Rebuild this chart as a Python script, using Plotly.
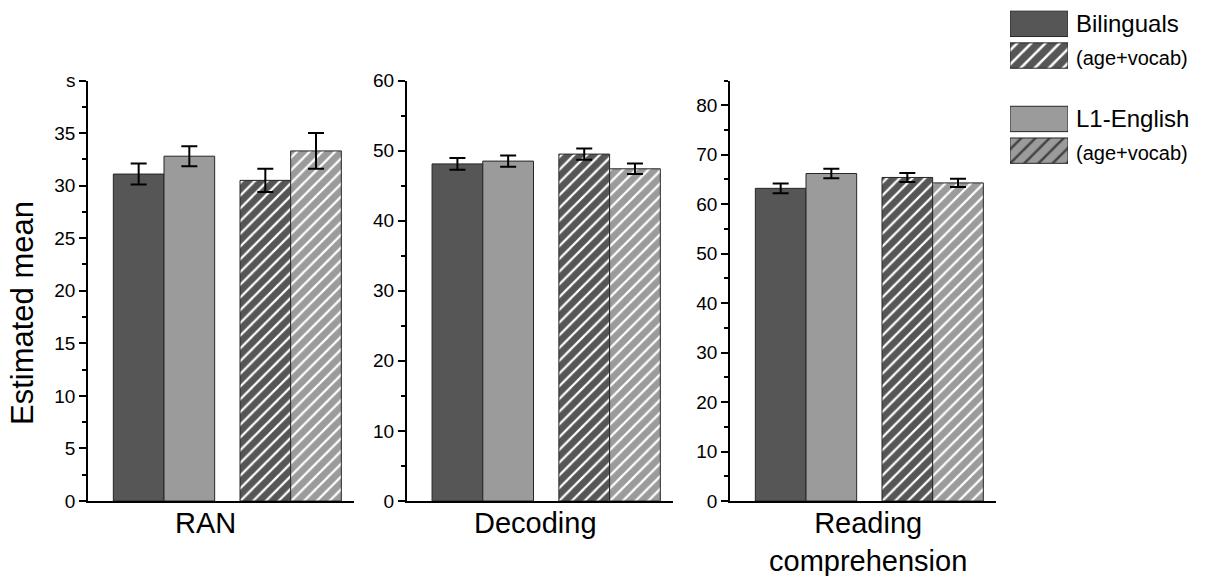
import plotly.graph_objects as go

# ---- data -------------------------------------------------------------
measures = ["RAN", "Decoding", "Reading<br>comprehension"]
models = ["unadjusted", "age+vocab"]

bilingual_mean = [31.1, 48.1, 63.2]
bilingual_err = [1.0, 0.85, 1.0]
bilingual_adj_mean = [30.5, 49.5, 65.4]
bilingual_adj_err = [1.1, 0.8, 0.9]

english_mean = [32.8, 48.5, 66.2]
english_err = [0.95, 0.8, 0.95]
english_adj_mean = [33.3, 47.4, 64.3]
english_adj_err = [1.7, 0.75, 0.85]

y_max = [40, 60, 85]
y_tickvals = [
    [0, 5, 10, 15, 20, 25, 30, 35, 40],
    [0, 10, 20, 30, 40, 50, 60],
    [0, 10, 20, 30, 40, 50, 60, 70, 80],
]
y_ticktext = [
    ["0", "5", "10", "15", "20", "25", "30", "35", "s"],
    ["0", "10", "20", "30", "40", "50", "60"],
    ["0", "10", "20", "30", "40", "50", "60", "70", "80"],
]
y_minor = [2.5, 5, 5]

legend_labels = ["Bilinguals", "(age+vocab)", "", "L1-English", "(age+vocab)"]
legend_keys = ["bil", "bil_adj", "spacer", "eng", "eng_adj"]

# ---- style ------------------------------------------------------------
W, H = 1214, 576
DARK = "#565656"
LIGHT = "#9b9b9b"
EDGE = "#262626"
FONT = "Arial, Liberation Sans, sans-serif"

x_domains = [(88, 354), (406.7, 673), (730, 996)]
y_domain = [(H - 501) / H, (H - 80.5) / H]
label_x = [205, 535, 868]


def px_x(v):
    return v / W


def px_y(v):
    return (H - v) / H


fig = go.Figure()

series = [
    ("Bilinguals", DARK, bilingual_mean, bilingual_adj_mean, bilingual_err, bilingual_adj_err),
    ("L1-English", LIGHT, english_mean, english_adj_mean, english_err, english_adj_err),
]

for i in range(3):
    xa = "x" if i == 0 else f"x{i + 1}"
    ya = "y" if i == 0 else f"y{i + 1}"
    for name, color, m, madj, e, eadj in series:
        fig.add_trace(go.Bar(
            x=models,
            y=[m[i], madj[i]],
            name=name,
            xaxis=xa, yaxis=ya,
            marker=dict(
                color=color,
                line=dict(color=EDGE, width=1),
                pattern=dict(shape=["", "/"], fgcolor="white", fgopacity=1,
                             fillmode="overlay", size=9, solidity=0.25),
            ),
            error_y=dict(type="data", array=[e[i], eadj[i]], visible=True,
                         color="black", thickness=2, width=8),
            showlegend=False,
        ))

    axis_common = dict(showline=True, linecolor="black", linewidth=1.5,
                       automargin=False)
    fig.layout[("xaxis" if i == 0 else f"xaxis{i + 1}")] = dict(
        domain=[px_x(x_domains[i][0]), px_x(x_domains[i][1])],
        anchor=ya, type="category", range=[-0.6, 1.5],
        showticklabels=False, ticks="", showgrid=False, zeroline=False,
        **axis_common,
    )
    fig.layout[("yaxis" if i == 0 else f"yaxis{i + 1}")] = dict(
        domain=y_domain, anchor=xa, range=[0, y_max[i]],
        tickvals=y_tickvals[i], ticktext=y_ticktext[i],
        ticks="outside", ticklen=7, tickwidth=1.5, tickcolor="black",
        minor=dict(dtick=y_minor[i], tick0=0, ticks="outside", ticklen=4,
                   tickwidth=1.5, tickcolor="black", showgrid=False),
        showgrid=False, zeroline=False,
        tickfont=dict(family=FONT, size=19, color="black"),
        **axis_common,
    )
    fig.add_annotation(
        text=measures[i], xref="paper", yref="paper",
        x=px_x(label_x[i]), y=px_y(523), xanchor="center", yanchor="top",
        yshift=18, showarrow=False,
        font=dict(family=FONT, size=29, color="black"),
    )

# ---- legend swatches on a hidden axis ---------------------------------
sw_colors = [DARK, DARK, DARK, LIGHT, LIGHT]
sw_shapes = ["", "/", "", "", "/"]
sw_len = [1, 1, None, 1, 1]
fig.add_trace(go.Bar(
    x=sw_len, y=legend_keys, orientation="h",
    xaxis="x4", yaxis="y4", showlegend=False, hoverinfo="skip",
    marker=dict(
        color=sw_colors,
        line=dict(color=EDGE, width=1),
        pattern=dict(shape=sw_shapes, fgcolor="white", fgopacity=1,
                     fillmode="overlay", size=10, solidity=0.25),
    ),
))
fig.layout.xaxis4 = dict(domain=[px_x(1010), px_x(1068)], anchor="y4",
                         range=[0, 1], visible=False, automargin=False)
fig.layout.yaxis4 = dict(domain=[px_y(166.5), px_y(8)], anchor="x4",
                         type="category", categoryorder="array",
                         categoryarray=legend_keys, range=[4.5, -0.5],
                         visible=False, automargin=False)

for key, label in zip(legend_keys, legend_labels):
    if not label:
        continue
    big = not label.startswith("(")
    fig.add_annotation(
        text=label, xref="paper", yref="y4", x=px_x(1074), y=key,
        xanchor="left", yanchor="middle", showarrow=False,
        yshift=0 if big else -2,
        font=dict(family=FONT, size=24 if big else 20, color="black"),
    )

# ---- y title ----------------------------------------------------------
fig.add_annotation(
    text="Estimated mean", xref="paper", yref="paper",
    x=px_x(22), y=px_y(313), xanchor="center", yanchor="middle",
    textangle=-90, showarrow=False,
    font=dict(family=FONT, size=31, color="black"),
)

fig.update_layout(
    template="none",
    width=W, height=H, autosize=False,
    margin=dict(l=0, r=0, t=0, b=0, pad=0, autoexpand=False),
    paper_bgcolor="white", plot_bgcolor="white",
    barmode="group", bargap=0.2, bargroupgap=0,
    font=dict(family=FONT, color="black"),
)

fig.write_html("out.html")
